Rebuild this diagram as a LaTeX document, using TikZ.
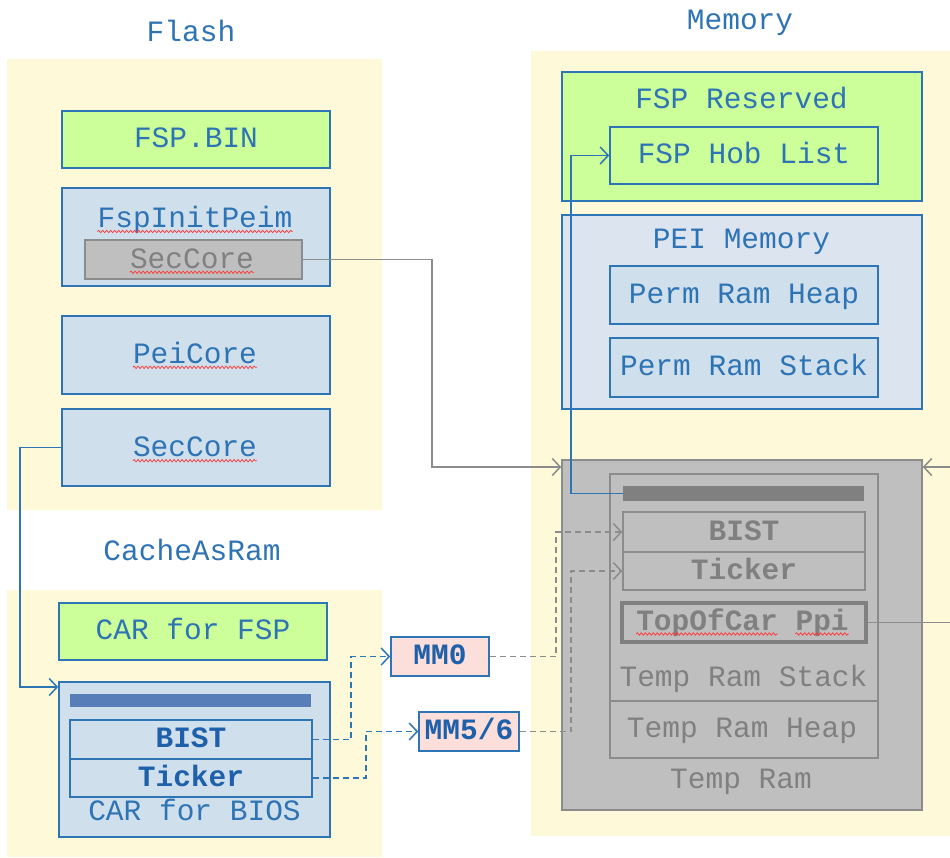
\documentclass[tikz,border=0pt]{standalone}
\usepackage{fontspec}
\setmainfont{Liberation Mono}
\usetikzlibrary{arrows.meta,calc,decorations.pathmorphing}
\definecolor{bgyellow}{RGB}{253,249,217}
\definecolor{fspgreen}{RGB}{204,255,153}
\definecolor{boxblue}{RGB}{207,223,236}
\definecolor{peiblue}{RGB}{220,228,240}
\definecolor{lineblue}{RGB}{46,117,182}
\definecolor{txtblue}{RGB}{46,116,181}
\definecolor{boldblue}{RGB}{30,96,170}
\definecolor{tgray}{RGB}{191,191,191}
\definecolor{dgray}{RGB}{128,128,128}
\definecolor{bordgray}{RGB}{140,140,140}
\definecolor{mmpink}{RGB}{252,222,218}
\definecolor{barblue}{RGB}{88,126,186}
\newcommand\dsz{\fontsize{29.5pt}{33pt}\selectfont}
\begin{document}
\begin{tikzpicture}[x=1pt,y=-1pt,
  every node/.style={font=\dsz, inner sep=0pt},
  bx/.style={draw=lineblue, line width=1.6pt, text=txtblue, text height=22pt, text depth=5.4pt},
  gbx/.style={draw=bordgray, fill=tgray, line width=1.4pt, text=dgray, text height=22pt, text depth=5.4pt},
  lbl/.style={text=txtblue, anchor=base},
  glbl/.style={text=dgray, anchor=base},
  ttl/.style={text=txtblue, anchor=base},
  wavy/.style={draw=red!80!white, line width=0.7pt, decorate, decoration={snake, amplitude=1.2pt, segment length=4pt}},
  tip/.style={-{Straight Barb[length=8pt,width=17pt,line width=1.5pt]}},
  bconn/.style={draw=lineblue, line width=1.5pt, tip},
  gconn/.style={draw=bordgray, line width=1.5pt, tip},
  dash6/.style={dash pattern=on 6pt off 4pt}
]
\useasboundingbox (0,0) rectangle (950,858);
\fill[white] (0,0) rectangle (950,858);
% ---------- Flash
\fill[bgyellow] (7,59) rectangle (382,510);
\node[ttl] (tflash) at (191,41.5) {Flash};
\node[bx, fill=fspgreen, minimum width=268pt, minimum height=57pt] (fspbin) at (196,139.5) {FSP.BIN};
\node[bx, fill=boxblue, minimum width=268pt, minimum height=98pt] (fspinit) at (196,237) {};
\node[lbl] (tfspinit) at (195,227.5) {FspInitPeim};
\node[gbx, minimum width=217pt, minimum height=39pt] (fsec) at (193.5,259.5) {};
\node[glbl] (tfsec) at (192,268.3) {SecCore};
\node[bx, fill=boxblue, minimum width=268pt, minimum height=78pt] (pei) at (196,355) {};
\node[lbl] (tpei) at (195,363.3) {PeiCore};
\node[bx, fill=boxblue, minimum width=268pt, minimum height=77pt] (sec) at (196,447.5) {};
\node[lbl] (tsec) at (195,456.7) {SecCore};
% ---------- CacheAsRam
\fill[bgyellow] (7,590) rectangle (382,857);
\node[ttl] (tcar) at (192,560) {CacheAsRam};
\node[bx, fill=fspgreen, minimum width=268pt, minimum height=57pt] (carfsp) at (193,631.5) {CAR for FSP};
\node[bx, fill=boxblue, minimum width=271pt, minimum height=155pt] (carbios) at (194.5,759.5) {};
\node[fill=barblue, minimum width=241pt, minimum height=13pt] (bbar) at (190.5,700.5) {};
\node[bx, fill=boxblue, text=boldblue, font=\dsz\bfseries, minimum width=242pt, minimum height=39pt] (bist) at (191,739.5) {BIST};
\node[bx, fill=boxblue, text=boldblue, font=\dsz\bfseries, minimum width=242pt, minimum height=38pt] (ticker) at (191,778) {Ticker};
\node[lbl] (tcarbios) at (194.5,820) {CAR for BIOS};
% ---------- MM registers
\node[bx, fill=mmpink, text=boldblue, font=\dsz\bfseries, minimum width=98pt, minimum height=39pt] (mm0) at (440,656.5) {MM0};
\node[bx, fill=mmpink, text=boldblue, font=\dsz\bfseries, minimum width=100pt, minimum height=39pt] (mm56) at (469,731.5) {MM5/6};
% ---------- Memory
\fill[bgyellow] (531,51) rectangle (960,836);
\node[ttl] (tmem) at (740,29.5) {Memory};
\node[bx, fill=fspgreen, minimum width=360pt, minimum height=129pt] (fsprsv) at (742,136.5) {};
\node[lbl] (tfsprsv) at (741.5,109) {FSP Reserved};
\node[bx, fill=fspgreen, minimum width=268pt, minimum height=57pt] (hob) at (744,155.5) {FSP Hob List};
\node[bx, fill=peiblue, minimum width=360pt, minimum height=194pt] (peimem) at (742,312) {};
\node[lbl] (tpeimem) at (741.5,248.3) {PEI Memory};
\node[bx, fill=boxblue, minimum width=268pt, minimum height=58pt] (pheap) at (744,295) {Perm Ram Heap};
\node[bx, fill=boxblue, minimum width=268pt, minimum height=59pt] (pstack) at (744,367.5) {Perm Ram Stack};
% ---------- Temp Ram
\node[gbx, minimum width=360pt, minimum height=350pt] (tempram) at (742,635) {};
\node[gbx, minimum width=268pt, minimum height=227pt] (tstack) at (744,587.5) {};
\node[gbx, minimum width=268pt, minimum height=57pt] (theap) at (744,729.5) {};
\node[fill=dgray, minimum width=241pt, minimum height=15pt] (dbar) at (743.5,493.5) {};
\node[gbx, font=\dsz\bfseries, minimum width=242pt, minimum height=40pt] (bistg) at (744,532) {BIST};
\node[gbx, font=\dsz\bfseries, minimum width=242pt, minimum height=38pt] (tickerg) at (744,571) {Ticker};
\node[gbx, draw=dgray, line width=4pt, minimum width=244pt, minimum height=39pt] (topcar) at (744,622.5) {};
\node[glbl, font=\dsz\bfseries] (ttopcar) at (742.5,630) {TopOfCar Ppi};
\node[glbl] (ttstack) at (743.5,686.7) {Temp Ram Stack};
\node[glbl] (ttheap) at (742,737.7) {Temp Ram Heap};
\node[glbl] (ttempram) at (741,788.3) {Temp Ram};
% ---------- spelling underlines
\draw[wavy] ($(tfspinit.base west)+(0,4)$) -- ($(tfspinit.base east)+(0,4)$);
\draw[wavy] ($(tfsec.base west)+(0,4)$) -- ($(tfsec.base east)+(0,4)$);
\draw[wavy] ($(tpei.base west)+(0,4)$) -- ($(tpei.base east)+(0,4)$);
\draw[wavy] ($(tsec.base west)+(0,4)$) -- ($(tsec.base east)+(0,4)$);
\draw[wavy] ($(ttopcar.base west)+(0,4)$) -- ($(ttopcar.base west)+(141.6,4)$);
\draw[wavy] ($(ttopcar.base west)+(159.3,4)$) -- ($(ttopcar.base east)+(0,4)$);
% ---------- connectors
\coordinate (c1) at (20,687);
\draw[bconn] (sec.west) -| (c1) -- (c1 -| carbios.west);
\coordinate (c2) at (432,467);
\draw[gconn] (fsec.east) -| (c2) -- (c2 -| tempram.west);
\coordinate (c3) at (571,493.5);
\draw[bconn] (dbar.west) -- (c3) |- (hob.west);
\coordinate (c4) at (351,739.5);
\draw[bconn, dash6] (bist.east) -- (c4) |- (mm0.west);
\coordinate (c5) at (366,778);
\draw[bconn, dash6] (ticker.east) -- (c5) |- (mm56.west);
\coordinate (c6) at (556,656.5);
\draw[gconn, dash6] (mm0.east) -- (c6) |- (bistg.west);
\coordinate (c7) at (571,731.5);
\draw[gconn, dash6] (mm56.east) -- (c7) |- (tickerg.west);
\coordinate (c8) at (965,622.5);
\coordinate (c9) at (965,467);
\draw[gconn] (topcar.east) -- (c8) -- (c9) -- (c9 -| tempram.east);
\end{tikzpicture}
\end{document}
